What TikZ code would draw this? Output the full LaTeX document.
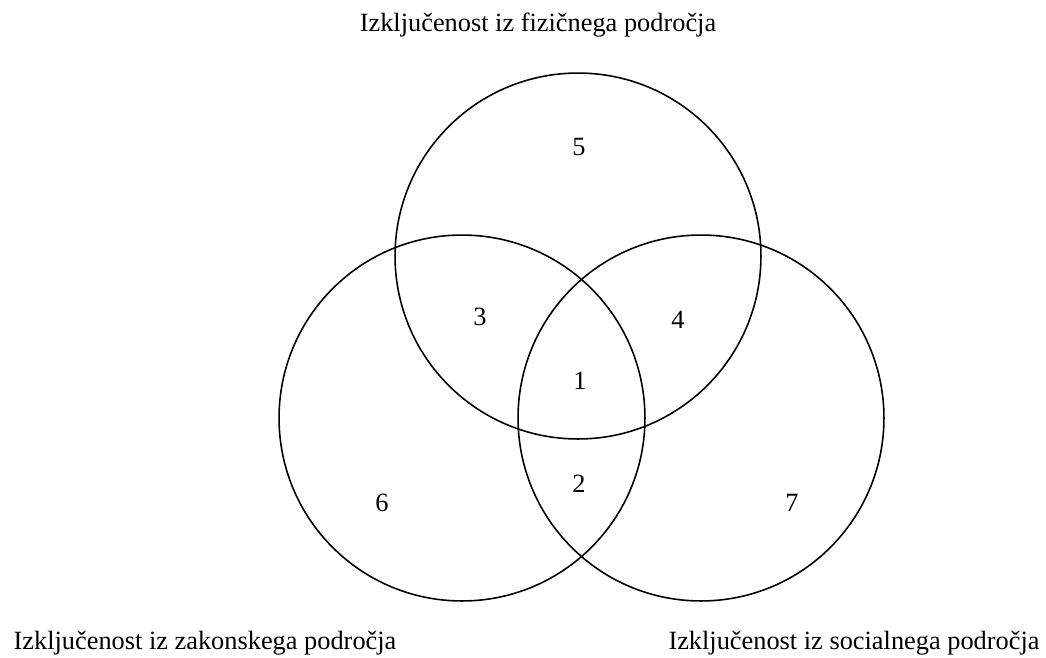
\documentclass[tikz,border=0pt]{standalone}
\usepackage{fontspec}
\setmainfont{Liberation Serif}

\begin{document}
\begin{tikzpicture}[x=0.02cm, y=-0.02cm, font=\fontsize{15}{18}\selectfont]
    \useasboundingbox (0,0) rectangle (1046,657);
    \tikzset{krog/.style={draw, circle, line width=0.9pt, minimum size=7.32cm, inner sep=0pt}}

    % Circles
    \node (fizicno) [krog] at (578,256) {};
    \node (zakonsko) [krog] at (462,418) {};
    \node (socialno) [krog] at (701,418) {};

    % Region numbers
    \node (n5) at (579,147) {5};
    \node (n3) at (480,317) {3};
    \node (n4) at (678,320) {4};
    \node (n1) at (580,381) {1};
    \node (n2) at (579,484) {2};
    \node (n6) at (382,503) {6};
    \node (n7) at (792,503) {7};

    % Labels
    \node (lfizicno) at (538,25) {Izključenost iz fizičnega področja};
    \node (lzakonsko) at (205,643) {Izključenost iz zakonskega področja};
    \node (lsocialno) at (854,643) {Izključenost iz socialnega področja};
\end{tikzpicture}
\end{document}
